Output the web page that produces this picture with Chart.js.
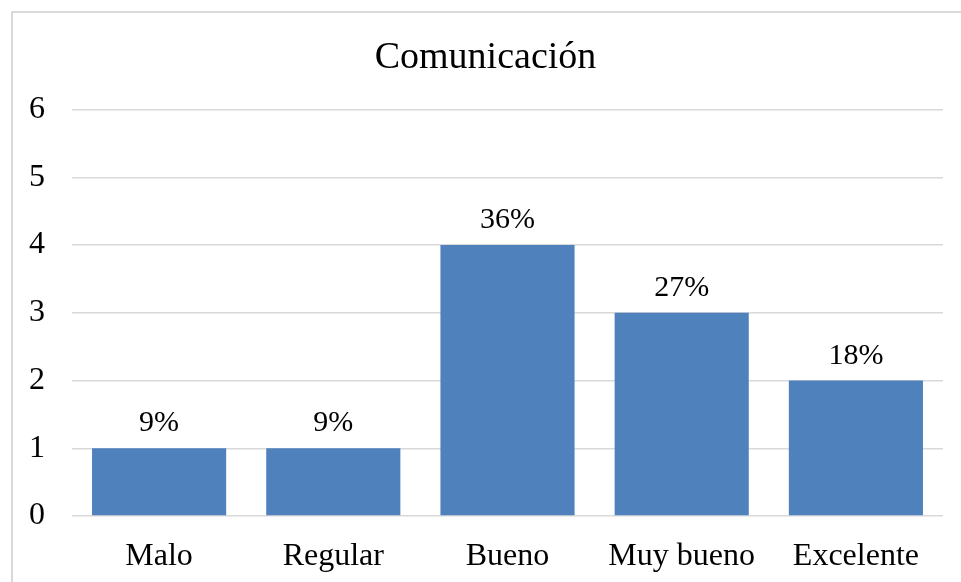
<!DOCTYPE html>
<html>
<head>
<meta charset="utf-8">
<script src="https://cdn.jsdelivr.net/npm/chart.js@4.4.1/dist/chart.umd.min.js"></script>
<style>
    html, body { margin: 0; padding: 0; background: #ffffff; }
    #wrap { width: 961px; height: 582px; position: relative; }
</style>
</head>
<body>
<div id="wrap"><canvas id="chart" width="961" height="582"></canvas></div>
<script>
// Chart data
const categories = ['Malo', 'Regular', 'Bueno', 'Muy bueno', 'Excelente'];
const counts = [1, 1, 4, 3, 2];
const percentLabels = ['9%', '9%', '36%', '27%', '18%'];
const yTicks = [0, 1, 2, 3, 4, 5, 6];

const serif = "'Liberation Serif', 'Times New Roman', serif";

/**
 * Background + light frame around the chart (frame runs off the right/bottom edge)
 */
const framePlugin = {
    id: 'frame',
    beforeDraw(chart) {
        const ctx = chart.ctx;
        ctx.save();
        ctx.fillStyle = '#ffffff';
        ctx.fillRect(0, 0, chart.width, chart.height);
        ctx.strokeStyle = '#d9d9d9';
        ctx.lineWidth = 2;
        ctx.strokeRect(12, 12, chart.width + 20, chart.height + 20);
        ctx.restore();
    }
};

/**
 * Percent labels above each bar
 */
const valueLabelPlugin = {
    id: 'valueLabels',
    afterDatasetsDraw(chart) {
        const ctx = chart.ctx;
        const meta = chart.getDatasetMeta(0);
        ctx.save();
        ctx.font = '30px ' + serif;
        ctx.fillStyle = '#000000';
        ctx.textAlign = 'center';
        ctx.textBaseline = 'alphabetic';
        meta.data.forEach(function(bar, i) {
            ctx.fillText(percentLabels[i], bar.x, bar.y - 17);
        });
        ctx.restore();
    }
};

new Chart(document.getElementById('chart'), {
    type: 'bar',
    data: {
        labels: categories,
        datasets: [{
            data: counts,
            backgroundColor: '#4f81bd',
            borderWidth: 0,
            categoryPercentage: 1,
            barPercentage: 0.77
        }]
    },
    options: {
        responsive: false,
        animation: false,
        layout: {
            padding: { top: 29, right: 18, left: 28, bottom: 0 }
        },
        plugins: {
            legend: { display: false },
            tooltip: { enabled: false },
            title: {
                display: true,
                text: 'Comunicación',
                color: '#000000',
                font: { family: serif, size: 38, weight: 'normal' },
                padding: { top: 6, bottom: 29 }
            }
        },
        scales: {
            x: {
                grid: { display: false, drawTicks: false },
                border: { display: false },
                ticks: {
                    color: '#000000',
                    font: { family: serif, size: 32 },
                    padding: 21,
                    maxRotation: 0
                },
                afterFit: function(scale) { scale.height = 66; }
            },
            y: {
                min: 0,
                max: 6,
                afterBuildTicks: function(scale) {
                    scale.ticks = yTicks.map(v => ({ value: v }));
                },
                grid: { color: '#d9d9d9', lineWidth: 1.5, drawTicks: false },
                border: { display: false },
                ticks: {
                    color: '#000000',
                    font: { family: serif, size: 32 },
                    padding: 27
                },
                afterFit: function(scale) { scale.width = 44; }
            }
        }
    },
    plugins: [framePlugin, valueLabelPlugin]
});
</script>
</body>
</html>
